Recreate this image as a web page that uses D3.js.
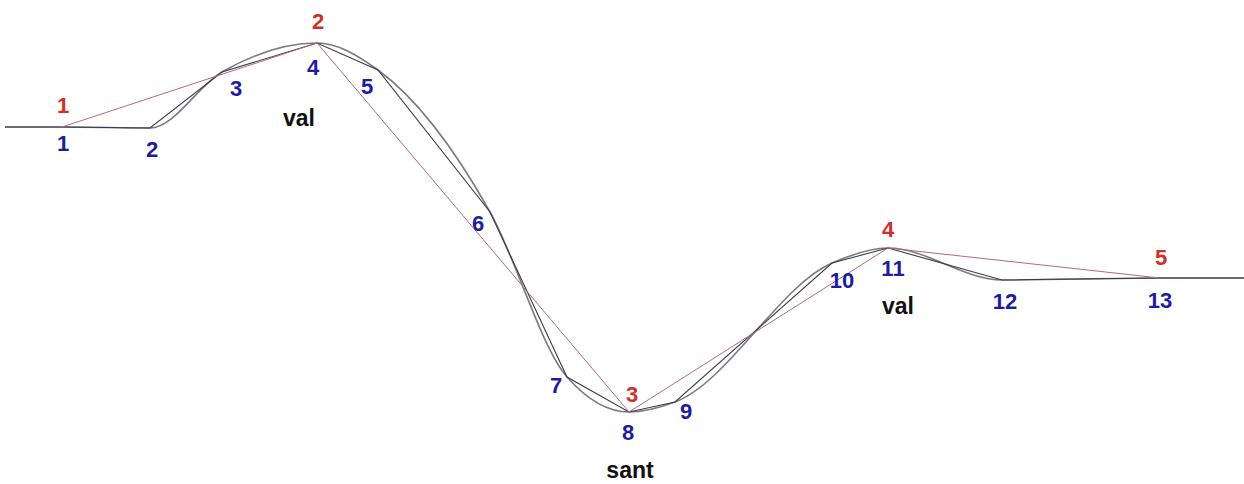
<!DOCTYPE html>
<html>
<head>
<meta charset="utf-8">
<script src="https://cdn.jsdelivr.net/npm/d3@7"></script>
<style>
  body { margin: 0; background: #fff; }
  text { font-family: "Liberation Sans", Arial, sans-serif; font-weight: bold; }
</style>
</head>
<body>
<div id="chart"></div>
<script>
// profile points, x = distance along, y = height (up is positive)
var fineX = [0, 57, 145, 217, 312, 373, 485, 562, 624, 670, 827, 883, 997, 1155, 1239];
var fineY = [357, 357, 356, 412, 441, 414, 272, 107, 72, 82, 221, 236, 204, 206, 206];
var fineLabels = ["", "1", "2", "3", "4", "5", "6", "7", "8", "9", "10", "11", "12", "13", ""];

var coarseX = [57, 312, 624, 883, 1155];
var coarseY = [357, 441, 72, 236, 206];
var coarseLabels = ["1", "2", "3", "4", "5"];

var notes = ["val", "sant", "val"];
var noteX = [294, 625, 893];
var noteY = [366, 14, 178];

var width = 1244, height = 484;

var x = d3.scaleLinear().domain([0, 1239]).range([5, 1244]);
var y = d3.scaleLinear().domain([0, 484]).range([484, 0]);

var svg = d3.select("#chart").append("svg")
    .attr("width", width)
    .attr("height", height);

var fine = fineX.map(function(d, i) { return {x: d, y: fineY[i], label: fineLabels[i]}; });
var coarse = coarseX.map(function(d, i) { return {x: d, y: coarseY[i], label: coarseLabels[i]}; });

var line = d3.line()
    .x(function(d) { return x(d.x); })
    .y(function(d) { return y(d.y); });

// smoothed profile
svg.append("path")
    .attr("fill", "none")
    .attr("stroke", "#7a7a80")
    .attr("stroke-width", 1.6)
    .attr("d", line.curve(d3.curveMonotoneX)(fine));

// fine polyline
svg.append("path")
    .attr("fill", "none")
    .attr("stroke", "#3a3a55")
    .attr("stroke-width", 1.1)
    .attr("d", line.curve(d3.curveLinear)(fine));

// coarse polyline
svg.append("path")
    .attr("fill", "none")
    .attr("stroke", "#b56a78")
    .attr("stroke-width", 1)
    .attr("d", line.curve(d3.curveLinear)(coarse));

var fineDx = [0, 1, 2, 14, -4, -11, -12, -11, -1, 11, 10, 5, 3, 0, 0];
var fineDy = [0, 16, 21, 16, 24, 16, 11, 8, 20, 9, 17, 20, 21, 22, 0];
var coarseDx = [1, 1, 3, 0, 1];
var coarseDy = [-22, -22, -18, -19, -21];

svg.selectAll("text.fine")
    .data(fine.filter(function(d) { return d.label; }))
    .enter().append("text")
    .attr("class", "fine")
    .attr("x", function(d) { return x(d.x) + fineDx[fine.indexOf(d)]; })
    .attr("y", function(d) { return y(d.y) + fineDy[fine.indexOf(d)]; })
    .attr("text-anchor", "middle")
    .attr("dominant-baseline", "central")
    .attr("font-size", 22)
    .attr("fill", "#1c1ca0")
    .text(function(d) { return d.label; });

svg.selectAll("text.coarse")
    .data(coarse)
    .enter().append("text")
    .attr("class", "coarse")
    .attr("x", function(d, i) { return x(d.x) + coarseDx[i]; })
    .attr("y", function(d, i) { return y(d.y) + coarseDy[i]; })
    .attr("text-anchor", "middle")
    .attr("dominant-baseline", "central")
    .attr("font-size", 22)
    .attr("fill", "#d0302a")
    .text(function(d) { return d.label; });

svg.selectAll("text.note")
    .data(notes)
    .enter().append("text")
    .attr("class", "note")
    .attr("x", function(d, i) { return x(noteX[i]); })
    .attr("y", function(d, i) { return y(noteY[i]); })
    .attr("text-anchor", "middle")
    .attr("dominant-baseline", "central")
    .attr("font-size", 23)
    .attr("fill", "#111")
    .text(function(d) { return d; });
</script>
</body>
</html>
